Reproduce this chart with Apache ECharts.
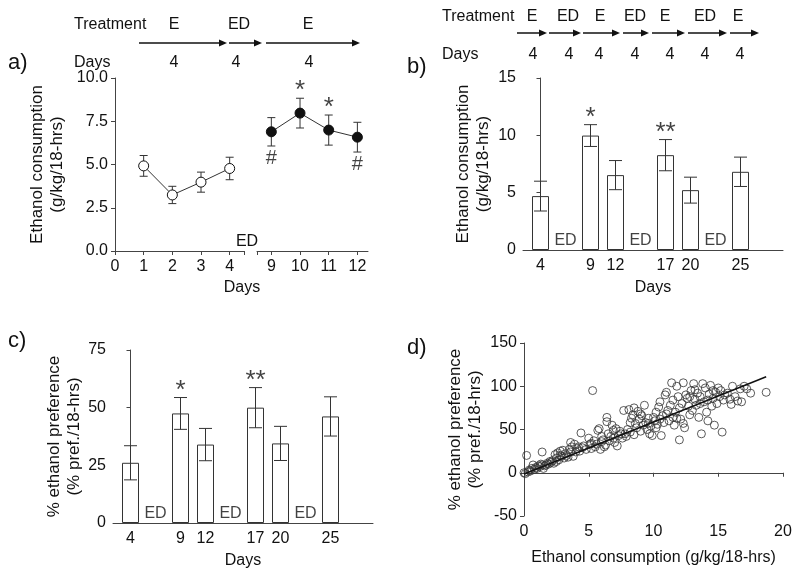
<!DOCTYPE html>
<html>
<head>
<meta charset="utf-8">
<script src="https://cdn.jsdelivr.net/npm/echarts@6/dist/echarts.min.js"></script>
<style>
  html, body { margin: 0; padding: 0; background: #fff; }
  #chart { width: 800px; height: 571px; }
</style>
</head>
<body>
<div id="chart"></div>
<script>
// ---- panel a: daily consumption, E then ED then E ----
var aDays = [1, 2, 3, 4, 9, 10, 11, 12];
var aMean = [4.92, 3.24, 3.98, 4.77, 6.89, 7.97, 6.99, 6.58];
var aSem = [0.6, 0.5, 0.58, 0.65, 0.82, 0.86, 0.87, 0.86];
var aStar = ['', '', '', '', '', '*', '*', ''];
var aHash = ['', '', '', '', '#', '', '', '#'];

// ---- panels b, c: bars by day ----
var barDays = ['4', 'ED', '9', '12', 'ED', '17', '20', 'ED', '25'];
var bMean = [4.70, null, 9.98, 6.53, null, 8.27, 5.22, null, 6.82];
var bSem = [1.3, null, 0.95, 1.27, null, 1.36, 1.13, null, 1.28];
var cMean = [26.1, null, 47.5, 34.0, null, 50.0, 34.5, null, 46.2];
var cSem = [7.4, null, 6.9, 7.0, null, 8.7, 7.4, null, 8.5];
var barSig = ['', null, '*', '', null, '**', '', null, ''];

// ---- panel d: consumption vs preference ----
var dPoints = [
  [0, 0], [0.1, -1], [0.2, 20], [0.3, 1], [0.4, 3], [0.5, 2], [0.6, 5], [0.7, 9], [0.8, 4], [0.9, 6],
  [1.0, 5], [1.1, 8], [1.2, 7], [1.3, 10], [1.4, 24], [1.4, 9], [1.5, 5], [1.6, 8], [1.7, 9], [1.8, 11],
  [1.9, 10], [2.0, 13], [2.1, 12], [2.2, 14], [2.3, 11], [2.4, 21], [2.5, 17], [2.5, 13], [2.6, 23], [2.7, 15],
  [2.8, 25], [2.8, 20], [2.9, 19], [3.0, 26], [3.1, 17], [3.2, 22], [3.3, 20], [3.4, 18], [3.5, 27], [3.6, 35],
  [3.6, 24], [3.7, 30], [3.8, 19], [3.9, 33], [4.0, 24], [4.1, 28], [4.2, 30], [4.4, 46], [4.5, 29], [4.6, 31],
  [4.8, 27], [5.0, 40], [5.1, 33], [5.2, 28], [5.3, 95], [5.4, 37], [5.5, 30], [5.6, 33], [5.7, 49], [5.8, 51],
  [5.9, 27], [6.0, 36], [6.1, 38], [6.2, 30], [6.3, 32], [6.4, 64], [6.4, 59], [6.5, 45], [6.6, 37], [6.7, 42],
  [6.8, 55], [6.9, 49], [7.0, 35], [7.1, 51], [7.2, 31], [7.3, 43], [7.4, 48], [7.6, 40], [7.7, 72], [7.8, 45],
  [7.9, 42], [8.0, 50], [8.1, 73], [8.2, 47], [8.3, 63], [8.4, 67], [8.5, 75], [8.5, 44], [8.6, 57], [8.7, 52],
  [8.8, 71], [8.9, 62], [9.0, 48], [9.1, 66], [9.2, 55], [9.3, 78], [9.4, 58], [9.5, 50], [9.6, 63], [9.7, 45],
  [9.8, 54], [9.9, 43], [10.0, 64], [10.1, 60], [10.2, 52], [10.3, 56], [10.4, 76], [10.5, 82], [10.6, 43], [10.7, 66],
  [10.8, 58], [10.9, 90], [11.0, 93], [11.1, 72], [11.2, 60], [11.3, 78], [11.4, 104], [11.5, 64], [11.6, 55], [11.7, 70],
  [11.8, 100], [11.9, 88], [12.0, 38], [12.1, 62], [12.2, 80], [12.3, 104], [12.4, 52], [12.5, 90], [12.3, 57], [12.6, 86],
  [12.7, 77], [12.8, 67], [12.9, 95], [13.0, 72], [13.1, 103], [13.2, 85], [13.3, 78], [13.4, 92], [13.5, 64], [13.6, 88],
  [13.7, 45], [13.8, 103], [13.9, 82], [14.0, 98], [14.1, 70], [14.2, 60], [14.3, 91], [14.4, 101], [14.5, 77], [14.6, 86],
  [14.7, 55], [14.8, 93], [14.9, 80], [15.0, 98], [15.1, 88], [15.2, 95], [15.3, 47], [15.4, 84], [15.5, 90], [15.7, 92],
  [15.9, 85], [16.0, 79], [16.1, 100], [16.3, 88], [16.5, 83], [16.7, 97], [16.8, 82], [17.0, 100], [17.2, 97], [17.5, 92],
  [18.7, 93], [9.0, 68], [9.6, 57], [10.5, 62], [11.0, 68], [11.5, 84], [12.0, 75], [12.8, 88], [13.6, 80], [14.2, 84],
  [14.6, 95], [13.2, 96], [11.8, 63], [10.2, 70], [8.2, 58], [7.5, 45], [6.9, 40], [6.0, 42], [5.2, 34], [4.3, 25]
];
var fitLine = [[0, -1.5], [18.7, 111]];

var INK = '#111';
var AXIS = '#444';
var FONT = 'Liberation Sans, Arial, sans-serif';

function axisBase(extra) {
  var base = {
    axisLine: { lineStyle: { color: AXIS, width: 1 } },
    axisTick: { length: 4, lineStyle: { color: AXIS } },
    axisLabel: { color: INK, fontSize: 16, fontFamily: FONT, margin: 7 },
    splitLine: { show: false },
    nameTextStyle: { color: INK, fontSize: 16, fontFamily: FONT }
  };
  return Object.assign(base, extra);
}

function errorBars(xi, yi, data, cap) {
  return {
    type: 'custom', xAxisIndex: xi, yAxisIndex: yi, data: data, z: 5,
    renderItem: function (params, api) {
      var x = api.value(0);
      var lo = api.coord([x, api.value(1)]);
      var hi = api.coord([x, api.value(2)]);
      var st = { stroke: '#333', lineWidth: 1 };
      return {
        type: 'group', children: [
          { type: 'line', shape: { x1: hi[0], y1: hi[1], x2: lo[0], y2: lo[1] }, style: st },
          { type: 'line', shape: { x1: hi[0] - cap, y1: hi[1], x2: hi[0] + cap, y2: hi[1] }, style: st },
          { type: 'line', shape: { x1: lo[0] - cap, y1: lo[1], x2: lo[0] + cap, y2: lo[1] }, style: st }
        ]
      };
    }
  };
}

function textMarks(xi, yi, data, pos, dist, size) {
  return {
    type: 'scatter', xAxisIndex: xi, yAxisIndex: yi, symbolSize: 0, z: 6,
    data: data,
    label: {
      show: true, position: pos, distance: dist, color: INK, fontSize: size, fontFamily: FONT,
      formatter: function (p) { return p.value[2]; }
    }
  };
}

// panel a series data
var aOpen = [], aFill = [], aErrL = [], aErrR = [], aStarData = [], aHashData = [];
aDays.forEach(function (d, i) {
  var pt = [d, aMean[i]];
  var er = [d, aMean[i] - aSem[i], aMean[i] + aSem[i]];
  if (d <= 4) { aOpen.push(pt); aErrL.push(er); } else { aFill.push(pt); aErrR.push(er); }
  if (aStar[i]) aStarData.push([d, aMean[i] + aSem[i], aStar[i]]);
  if (aHash[i]) aHashData.push([d, aMean[i] - aSem[i], aHash[i]]);
});

// panels b, c series data (bars placed by slot index)
function barSeries(mean, sem, xi, yi) {
  var bars = [], errs = [], sig = [], ed = [];
  barDays.forEach(function (lab, i) {
    if (lab === 'ED') { ed.push([i, 0, 'ED']); return; }
    bars.push([i, mean[i]]);
    errs.push([i, mean[i] - sem[i], mean[i] + sem[i]]);
    if (barSig[i]) sig.push([i, mean[i] + sem[i], barSig[i]]);
  });
  return [
    {
      type: 'bar', xAxisIndex: xi, yAxisIndex: yi, data: bars, barWidth: 17,
      itemStyle: { color: '#fff', borderColor: '#333', borderWidth: 1 }
    },
    errorBars(xi, yi, errs, 6.5),
    textMarks(xi, yi, sig, 'top', -6, 26),
    textMarks(xi, yi, ed, 'top', 1, 16)
  ];
}

var slotLabels = [0, 2, 3, 5, 6, 8];
function slotAxis(gi) {
  return axisBase({
    type: 'value', gridIndex: gi, min: -0.7, max: 9.7,
    axisTick: { show: false },
    axisLabel: {
      color: INK, fontSize: 16, fontFamily: FONT, margin: 8, customValues: slotLabels,
      formatter: function (v) { return barDays[Math.round(v)]; }
    },
    name: 'Days', nameLocation: 'middle', nameGap: 30
  });
}

function arrow(x1, x2, y) {
  return [
    { type: 'line', shape: { x1: x1, y1: y, x2: x2 - 6, y2: y }, style: { stroke: '#111', lineWidth: 1.5 } },
    { type: 'polygon', shape: { points: [[x2 - 8, y - 3.5], [x2, y], [x2 - 8, y + 3.5]] }, style: { fill: '#111' } }
  ];
}
function txt(x, y, s, align, size) {
  return {
    type: 'text', x: x, y: y,
    style: { text: s, fill: INK, fontSize: size || 16, fontFamily: FONT, align: align || 'center', verticalAlign: 'middle' }
  };
}

var graphics = [
  txt(8, 63, 'a)', 'left', 22), txt(407, 67, 'b)', 'left', 22),
  txt(8, 341, 'c)', 'left', 22), txt(407, 348, 'd)', 'left', 22),
  // panel a header
  txt(74, 25, 'Treatment', 'left'), txt(174, 25, 'E'), txt(239, 25, 'ED'), txt(308, 25, 'E'),
  txt(74, 63, 'Days', 'left'), txt(174, 63, '4'), txt(236, 63, '4'), txt(309, 63, '4'),
  // panel b header
  txt(442, 17, 'Treatment', 'left'), txt(532, 17, 'E'), txt(568, 17, 'ED'), txt(600, 17, 'E'),
  txt(635, 17, 'ED'), txt(665, 17, 'E'), txt(705, 17, 'ED'), txt(738, 17, 'E'),
  txt(442, 55, 'Days', 'left'), txt(533, 55, '4'), txt(569, 55, '4'), txt(599, 55, '4'),
  txt(635, 55, '4'), txt(670, 55, '4'), txt(705, 55, '4'), txt(740, 55, '4'),
  // panel a break label and x title
  txt(247, 242, 'ED'), txt(242, 288, 'Days')
];
[[139, 227, 43], [229, 262, 43], [266, 360, 43],
 [517, 547, 33], [549, 581, 33], [583, 620, 33], [623, 649, 33], [652, 685, 33], [688, 727, 33], [730, 759, 33]]
  .forEach(function (a) { graphics = graphics.concat(arrow(a[0], a[1], a[2])); });

var chart = echarts.init(document.getElementById('chart'));
chart.setOption({
  animation: false,
  backgroundColor: '#fff',
  textStyle: { fontFamily: FONT },
  grid: [
    { left: 115, top: 78, width: 129, height: 173 },
    { left: 257, top: 78, width: 111, height: 173 },
    { left: 523, top: 78, width: 260, height: 172 },
    { left: 113, top: 350, width: 260, height: 173 },
    { left: 524, top: 343, width: 259, height: 173 }
  ],
  xAxis: [
    axisBase({ type: 'value', gridIndex: 0, min: 0, max: 4.5,
      axisTick: { length: 4, lineStyle: { color: AXIS }, customValues: [0, 1, 2, 3, 4, 4.5] },
      axisLabel: { color: INK, fontSize: 16, fontFamily: FONT, margin: 8, customValues: [0, 1, 2, 3, 4] } }),
    axisBase({ type: 'value', gridIndex: 1, min: 8.5, max: 12.37,
      axisTick: { length: 4, lineStyle: { color: AXIS }, customValues: [8.5, 9, 10, 11, 12] },
      axisLabel: { color: INK, fontSize: 16, fontFamily: FONT, margin: 8, customValues: [9, 10, 11, 12] } }),
    slotAxis(2),
    slotAxis(3),
    axisBase({ type: 'value', gridIndex: 4, min: 0, max: 20, interval: 5,
      axisLabel: { color: INK, fontSize: 16, fontFamily: FONT, margin: 8 },
      name: 'Ethanol consumption (g/kg/18-hrs)', nameLocation: 'middle', nameGap: 34 })
  ],
  yAxis: [
    axisBase({ type: 'value', gridIndex: 0, min: 0, max: 10, interval: 2.5,
      axisLabel: { color: INK, fontSize: 16, fontFamily: FONT, margin: 7, formatter: function (v) { return v.toFixed(1); } },
      name: 'Ethanol consumption\n(g/kg/18-hrs)', nameLocation: 'middle', nameGap: 48,
      nameTextStyle: { color: INK, fontSize: 17, fontFamily: FONT, lineHeight: 20 } }),
    { type: 'value', gridIndex: 1, min: 0, max: 10, show: false },
    axisBase({ type: 'value', gridIndex: 2, min: 0, max: 15, interval: 5,
      name: 'Ethanol consumption\n(g/kg/18-hrs)', nameLocation: 'middle', nameGap: 30,
      nameTextStyle: { color: INK, fontSize: 17, fontFamily: FONT, lineHeight: 20 } }),
    axisBase({ type: 'value', gridIndex: 3, min: 0, max: 75, interval: 25,
      name: '% ethanol preference\n(% pref./18-hrs)', nameLocation: 'middle', nameGap: 28,
      nameTextStyle: { color: INK, fontSize: 17, fontFamily: FONT, lineHeight: 20 } }),
    axisBase({ type: 'value', gridIndex: 4, min: -50, max: 150, interval: 50,
      name: '% ethanol preference\n(% pref./18-hrs)', nameLocation: 'middle', nameGap: 39,
      nameTextStyle: { color: INK, fontSize: 17, fontFamily: FONT, lineHeight: 20 } })
  ],
  graphic: graphics,
  series: [
    errorBars(0, 0, aErrL, 4),
    errorBars(1, 1, aErrR, 4),
    { type: 'line', xAxisIndex: 0, yAxisIndex: 0, data: aOpen, symbol: 'circle', symbolSize: 10, z: 7,
      lineStyle: { color: '#333', width: 1 }, itemStyle: { color: '#fff', borderColor: '#111', borderWidth: 1 } },
    { type: 'line', xAxisIndex: 1, yAxisIndex: 1, data: aFill, symbol: 'circle', symbolSize: 10, z: 7,
      lineStyle: { color: '#333', width: 1 }, itemStyle: { color: '#111', borderColor: '#111', borderWidth: 1 } },
    textMarks(1, 1, aStarData, 'top', -6, 26),
    textMarks(1, 1, aHashData, 'bottom', 2, 20)
  ].concat(barSeries(bMean, bSem, 2, 2), barSeries(cMean, cSem, 3, 3), [
    { type: 'scatter', xAxisIndex: 4, yAxisIndex: 4, data: dPoints, symbolSize: 8,
      itemStyle: { color: 'rgba(255,255,255,0)', borderColor: '#333', borderWidth: 1 } },
    { type: 'line', xAxisIndex: 4, yAxisIndex: 4, data: fitLine, showSymbol: false, z: 8,
      lineStyle: { color: '#111', width: 1.5 } }
  ])
});
</script>
</body>
</html>
